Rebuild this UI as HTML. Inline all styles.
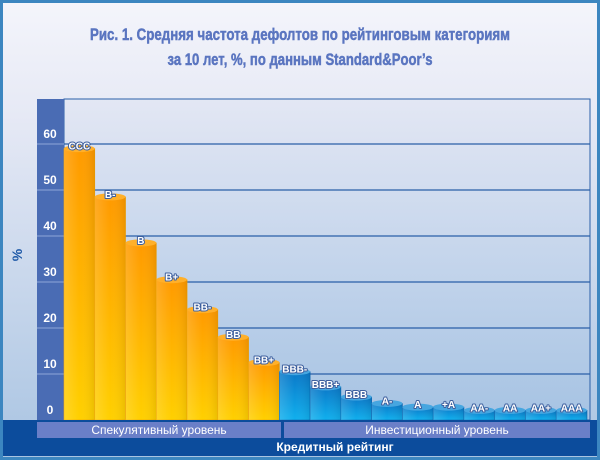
<!DOCTYPE html>
<html><head><meta charset="utf-8"><style>
html,body{margin:0;padding:0;background:#fff}
svg{display:block}
text{font-family:"Liberation Sans","DejaVu Sans",sans-serif}
</style></head><body>
<svg id="chart" width="600" height="460" viewBox="0 0 600 460" xmlns="http://www.w3.org/2000/svg">
<defs>
<linearGradient id="bg" x1="0" y1="0" x2="0" y2="1">
<stop offset="0" stop-color="#f4f5fb"/><stop offset="0.25" stop-color="#e6e9f5"/><stop offset="1" stop-color="#a9c4e2"/>
</linearGradient>
<linearGradient id="plotbg" x1="0" y1="0" x2="0" y2="1">
<stop offset="0" stop-color="#e3e7f4"/><stop offset="1" stop-color="#a6c3e3"/>
</linearGradient>
<linearGradient id="og" x1="0" y1="0" x2="0" y2="1">
<stop offset="0" stop-color="#ff9a00"/><stop offset="1" stop-color="#ffd000"/>
</linearGradient>
<linearGradient id="ogx" x1="0" y1="0" x2="1" y2="0">
<stop offset="0" stop-color="#fff" stop-opacity="0.15"/><stop offset="0.5" stop-color="#fff" stop-opacity="0"/><stop offset="1" stop-color="#000" stop-opacity="0.08"/>
</linearGradient>
<linearGradient id="bl" x1="0" y1="0" x2="0" y2="1">
<stop offset="0" stop-color="#0a78c8"/><stop offset="1" stop-color="#10b0ee"/>
</linearGradient>
</defs>
<rect x="1.5" y="1.5" width="597" height="457" fill="url(#bg)" stroke="#3c86c0" stroke-width="3"/>
<text x="300" y="40" text-anchor="middle" font-weight="bold" font-size="17" fill="#5a75c0" stroke="#5a75c0" stroke-width="0.5" textLength="420" lengthAdjust="spacingAndGlyphs">Рис. 1. Средняя частота дефолтов по рейтинговым категориям</text>
<text x="300" y="65" text-anchor="middle" font-weight="bold" font-size="17" fill="#5a75c0" stroke="#5a75c0" stroke-width="0.5" textLength="265" lengthAdjust="spacingAndGlyphs">за 10 лет, %, по данным Standard&amp;Poor’s</text>
<rect x="64" y="99" width="526" height="321" fill="url(#plotbg)" stroke="#2a5fa8" stroke-width="1"/>
<rect x="37" y="99" width="27" height="321" fill="#4a6cb4"/>
<g id="grid"></g>
<g id="bars"></g>
<g id="ylabels"></g>
<text x="22" y="255" text-anchor="middle" font-weight="bold" font-size="14" fill="#1f5aa8" transform="rotate(-90 22 255)">%</text>
<rect x="3" y="420" width="594" height="36" fill="#0c4c9c"/>
<rect x="37" y="422" width="244" height="16" fill="#6a7fc8"/>
<text x="159" y="434" text-anchor="middle" font-size="12" fill="#fff">Спекулятивный уровень</text>
<rect x="284" y="422" width="306" height="16" fill="#6a7fc8"/>
<text x="437" y="434" text-anchor="middle" font-size="12" fill="#fff">Инвестиционный уровень</text>
<text x="335" y="451" text-anchor="middle" font-weight="bold" font-size="12" fill="#fff">Кредитный рейтинг</text>
</svg>
<script>
const categories = ["CCC","B-","B","B+","BB-","BB","BB+","BBB-","BBB+","BBB","A-","A","+A","AA-","AA","AA+","AAA"];
const values = [59,48.5,38.5,30.5,24,18,12.5,10.5,7.2,5,3.6,2.8,2.8,2.1,2.1,2.1,2.1];
const groups = ["spec","spec","spec","spec","spec","spec","spec","inv","inv","inv","inv","inv","inv","inv","inv","inv","inv"];
const yTicks = [0,10,20,30,40,50,60];
const NS="http://www.w3.org/2000/svg";
const x0=64,x1=587,yZero=420,pxPerUnit=4.6;
const bw=(x1-x0)/categories.length;
function yScale(v){return yZero-v*pxPerUnit;}
function xScale(i){return x0+i*bw;}
function mk(tag,attrs,parent){const e=document.createElementNS(NS,tag);for(const k in attrs)e.setAttribute(k,attrs[k]);parent.appendChild(e);return e;}
const grid=document.getElementById('grid'),bars=document.getElementById('bars'),yl=document.getElementById('ylabels');
yTicks.forEach(t=>{
  const y=yScale(t);
  if(t>0){const l=mk('line',{x1:64,x2:590,y1:y,y2:y,stroke:'#2a5fa8','stroke-width':1.2},grid);
  
  
  const l2=mk('line',{x1:37,x2:64,y1:y,y2:y,stroke:'#8fa6d8','stroke-width':1},grid);
  
  }
  const tx=mk('text',{x:50,y:y-6,'text-anchor':'middle','font-weight':'bold','font-size':12,fill:'#fff'},yl);
  tx.textContent=t;
  
  
});
categories.forEach((c,i)=>{
  const x=xScale(i),y=yScale(values[i]),h=yZero-y;
  const inv=groups[i]==='inv';
  const g=mk('g',{},bars);
  
  
  mk('rect',{x:x,y:y,width:bw,height:h,fill:inv?'url(#bl)':'url(#og)',stroke:inv?'#0a64b0':'#f0a000','stroke-width':0.6},g);
  mk('rect',{x:x,y:y,width:bw,height:h,fill:'url(#ogx)'},g);
  mk('ellipse',{cx:x+bw/2,cy:y,rx:bw/2,ry:3.5,fill:inv?'#46a6e0':'#ffb02a'},g);
  const t=mk('text',{x:x+bw/2,y:y+1,'text-anchor':'middle','font-weight':'bold','font-size':10,fill:'#fff',stroke:'#3d5f9e','stroke-width':2,'paint-order':'stroke','stroke-linejoin':'round'},g);
  t.textContent=c;
  
  
});
</script>
</body></html>
